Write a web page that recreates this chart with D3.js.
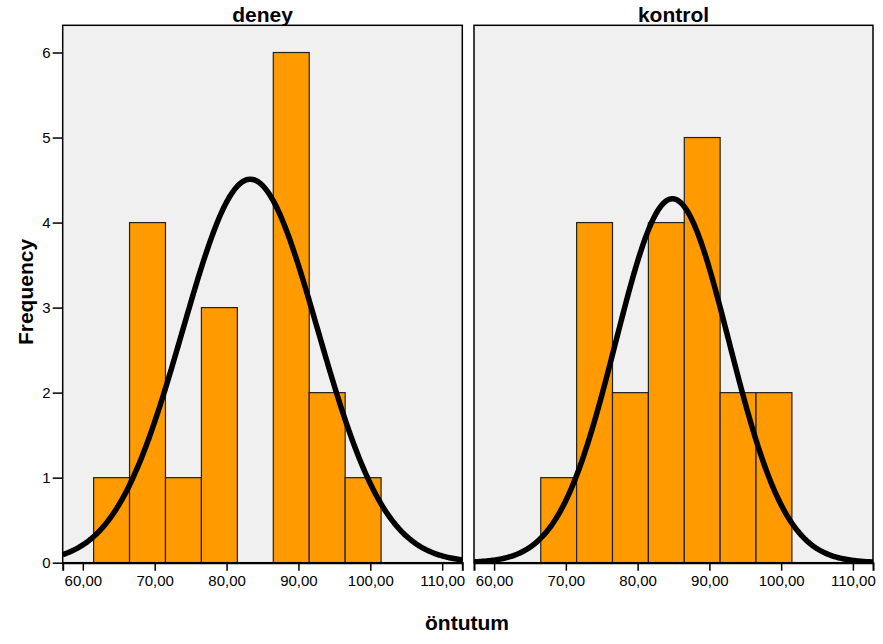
<!DOCTYPE html>
<html>
<head>
<meta charset="utf-8">
<script src="https://cdn.jsdelivr.net/npm/d3@7"></script>
<style>
  body { margin: 0; background: #fff; }
  svg { font-family: "Liberation Sans", Arial, sans-serif; }
</style>
</head>
<body>
<svg width="883" height="644"></svg>
<script>
// data
const groups = ["deney", "kontrol"];
const binEdges = [61.5, 66.5, 71.5, 76.5, 81.5, 86.5, 91.5, 96.5, 101.5];
const deneyCounts = [1, 4, 1, 3, 0, 6, 2, 1];
const kontrolCounts = [0, 1, 4, 2, 4, 5, 2, 2];
const curveMean = [83.3, 84.85];
const curveSd = [9.4, 7.9];
const curvePeak = [4.51, 4.28];
const xTicks = [60, 70, 80, 90, 100, 110];
const yTicks = [0, 1, 2, 3, 4, 5, 6];

const svg = d3.select("svg");
const panels = [
  { x0: 62.7, x1: 462.3, counts: deneyCounts },
  { x0: 474, x1: 873, counts: kontrolCounts },
];
const plotTop = 25.3;
const plotBottom = 562.7;

const yScale = d3.scaleLinear().domain([0, 6.32]).range([plotBottom, plotTop]);
const fmt = (d) => d3.format(".2f")(d).replace(".", ",");

panels.forEach((p, i) => {
  const xScale = d3.scaleLinear().domain([57.2, 112.8]).range([p.x0, p.x1]);

  const g = svg.append("g");

  g.append("rect")
    .attr("x", p.x0)
    .attr("y", plotTop)
    .attr("width", p.x1 - p.x0)
    .attr("height", plotBottom - plotTop)
    .attr("fill", "#f0f0f0");

  // bars
  const bins = p.counts.map((c, j) => ({ lo: binEdges[j], hi: binEdges[j + 1], c: c }));
  g.selectAll("rect.bar")
    .data(bins.filter((d) => d.c > 0))
    .enter()
    .append("rect")
    .attr("class", "bar")
    .attr("x", (d) => xScale(d.lo))
    .attr("y", (d) => yScale(d.c))
    .attr("width", (d) => xScale(d.hi) - xScale(d.lo))
    .attr("height", (d) => plotBottom - yScale(d.c))
    .attr("fill", "#ff9a00")
    .attr("stroke", "#222")
    .attr("stroke-width", 1.2);

  // normal curve
  const m = curveMean[i], s = curveSd[i], a = curvePeak[i];
  const pts = d3.range(57.2, 112.81, 0.2).map((v) => [v, a * Math.exp(-0.5 * ((v - m) / s) ** 2)]);
  const clipId = "clip" + i;
  svg.append("clipPath").attr("id", clipId)
    .append("rect")
    .attr("x", p.x0).attr("y", plotTop)
    .attr("width", p.x1 - p.x0).attr("height", plotBottom - plotTop);
  g.append("path")
    .datum(pts)
    .attr("clip-path", `url(#${clipId})`)
    .attr("fill", "none")
    .attr("stroke", "#000")
    .attr("stroke-width", 5.5)
    .attr("d", d3.line().x((d) => xScale(d[0])).y((d) => yScale(d[1])));

  // frame
  g.append("rect")
    .attr("x", p.x0)
    .attr("y", plotTop)
    .attr("width", p.x1 - p.x0)
    .attr("height", plotBottom - plotTop)
    .attr("fill", "none")
    .attr("stroke", "#000")
    .attr("stroke-width", 1.5);

  // x axis
  const xAxis = d3.axisBottom(xScale).tickValues(xTicks).tickFormat(fmt).tickSize(8).tickPadding(5);
  const xAxisG = g.append("g").attr("transform", `translate(0, ${plotBottom})`).call(xAxis);
  xAxisG.select(".domain").attr("stroke-width", 2);
  xAxisG.selectAll(".tick line").attr("stroke-width", 1.5);
  xAxisG.selectAll("text").attr("font-size", 15).attr("fill", "#000")
    .attr("font-family", "Liberation Sans, Arial, sans-serif");

  // panel title
  svg.append("text")
    .attr("x", (p.x0 + p.x1) / 2)
    .attr("y", 22)
    .attr("text-anchor", "middle")
    .attr("font-size", 21)
    .attr("font-weight", "bold")
    .text(groups[i]);

  if (i === 0) {
    const yAxis = d3.axisLeft(yScale).tickValues(yTicks).tickFormat(d3.format("d"))
      .tickSize(10).tickPadding(2);
    const yAxisG = g.append("g").attr("transform", `translate(${p.x0}, 0)`).call(yAxis);
    yAxisG.select(".domain").remove();
    yAxisG.selectAll(".tick line").attr("stroke-width", 1.5);
    yAxisG.selectAll("text").attr("font-size", 15).attr("fill", "#000")
      .attr("font-family", "Liberation Sans, Arial, sans-serif");
  }
});

svg.append("text")
  .attr("transform", "translate(33, 292) rotate(-90)")
  .attr("text-anchor", "middle")
  .attr("font-size", 21)
  .attr("font-weight", "bold")
  .text("Frequency");

svg.append("text")
  .attr("x", 467)
  .attr("y", 630)
  .attr("text-anchor", "middle")
  .attr("font-size", 21)
  .attr("font-weight", "bold")
  .text("öntutum");
</script>
</body>
</html>
